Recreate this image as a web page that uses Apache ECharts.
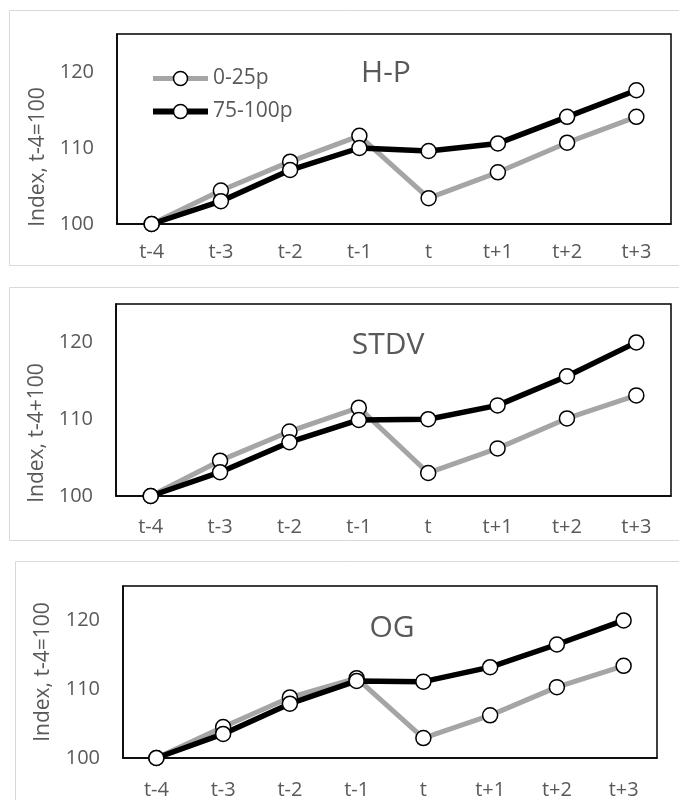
<!DOCTYPE html>
<html>
<head>
<meta charset="utf-8">
<script src="https://cdn.jsdelivr.net/npm/echarts/dist/echarts.min.js"></script>
<style>
  html, body { margin: 0; padding: 0; background: #fff; }
  #main { width: 679px; height: 800px; }
</style>
</head>
<body>
<div id="main"></div>
<script>
// data
var categories = ["t-4", "t-3", "t-2", "t-1", "t", "t+1", "t+2", "t+3"];
var seriesNames = ["0-25p", "75-100p"];
var panelTitles = ["H-P", "STDV", "OG"];
var yAxisNames = ["Index, t-4=100", "Index, t-4+100", "Index, t-4=100"];
var yMin = 100;
var yMax = 125;
var yStep = 10;

var hpLow = [100, 104.4, 108.2, 111.6, 103.4, 106.8, 110.7, 114.1];
var hpHigh = [100, 103.0, 107.1, 110.0, 109.6, 110.6, 114.1, 117.6];
var stdvLow = [100, 104.6, 108.4, 111.5, 103.0, 106.2, 110.1, 113.1];
var stdvHigh = [100, 103.1, 107.0, 109.9, 110.0, 111.8, 115.6, 120.0];
var ogLow = [100, 104.5, 108.8, 111.6, 102.9, 106.2, 110.3, 113.4];
var ogHigh = [100, 103.5, 107.9, 111.2, 111.1, 113.2, 116.5, 120.0];

var lowData = [hpLow, stdvLow, ogLow];
var highData = [hpHigh, stdvHigh, ogHigh];

var FONT = "Open Sans";
var TXT = "#595959";
var GRAY = "#a5a5a5";

// plot area of each panel (pixels)
var grids = [
	{ left: 117, top: 34, width: 554, height: 190 },
	{ left: 116, top: 304, width: 555, height: 192 },
	{ left: 123, top: 586, width: 534, height: 175 },
];
var nameGaps = [64, 60, 69];
var namePad = [[0, 56, 0, 0], [0, 66, 0, 0], [0, 0, 0, 0]];
var titlePos = [
	{ left: 381, top: 53 },
	{ left: 383, top: 325 },
	{ left: 387, top: 608 },
];
var labelMargin = [18, 21, 22];

var myChart = echarts.init(document.getElementById("main"));

var option = {
	animation: false,
	textStyle: { fontFamily: FONT },
	title: [],
	grid: [],
	xAxis: [],
	yAxis: [],
	series: [],
	legend: {
		orient: "vertical",
		left: 145,
		top: 63,
		itemWidth: 55,
		itemHeight: 17.5,
		itemGap: 12,
		textStyle: { fontFamily: FONT, fontSize: 21, color: TXT },
		data: [
			{
				name: seriesNames[0],
				lineStyle: { color: GRAY, width: 5 },
				itemStyle: { color: "#fff", borderColor: "#000", borderWidth: 1.5 },
			},
			{
				name: seriesNames[1],
				lineStyle: { color: "#000", width: 6 },
				itemStyle: { color: "#fff", borderColor: "#000", borderWidth: 1.5 },
			},
		],
	},
	// light frames round each of the three chart pictures
	graphic: [
		{ type: "rect", shape: { x: 9.5, y: 10.5, width: 700, height: 255 }, style: { fill: "none", stroke: "#d9d9d9", lineWidth: 1 } },
		{ type: "rect", shape: { x: 9.5, y: 287.5, width: 700, height: 253 }, style: { fill: "none", stroke: "#d9d9d9", lineWidth: 1 } },
		{ type: "rect", shape: { x: 15.5, y: 561.5, width: 700, height: 300 }, style: { fill: "none", stroke: "#d9d9d9", lineWidth: 1 } },
	],
};

for (var i = 0; i < 3; i++) {
	option.title.push({
		text: panelTitles[i],
		left: titlePos[i].left,
		top: titlePos[i].top,
		textAlign: "center",
		textStyle: { fontFamily: FONT, fontSize: 30, fontWeight: "normal", color: TXT },
	});
	option.grid.push({
		left: grids[i].left,
		top: grids[i].top,
		width: grids[i].width,
		height: grids[i].height,
		show: true,
		borderColor: "#000",
		borderWidth: 1.5,
		backgroundColor: "transparent",
	});
	option.xAxis.push({
		type: "category",
		gridIndex: i,
		data: categories,
		boundaryGap: true,
		axisLine: { lineStyle: { color: "#000", width: 1.5 } },
		axisTick: { alignWithLabel: true, inside: true, length: 5, lineStyle: { color: "#000", width: 1.5 } },
		axisLabel: { color: TXT, fontSize: 20, fontFamily: FONT, margin: labelMargin[i] },
	});
	option.yAxis.push({
		type: "value",
		gridIndex: i,
		min: yMin,
		max: yMax,
		interval: yStep,
		name: yAxisNames[i],
		nameLocation: "middle",
		nameGap: nameGaps[i],
		nameTextStyle: { color: TXT, fontSize: 21, fontFamily: FONT, padding: namePad[i] },
		axisLine: { show: true, lineStyle: { color: "#000", width: 1.5 } },
		axisTick: { show: false },
		splitLine: { show: false },
		axisLabel: { color: TXT, fontSize: 20, fontFamily: FONT, margin: 23, showMaxLabel: false },
	});
	option.series.push({
		name: seriesNames[0],
		type: "line",
		xAxisIndex: i,
		yAxisIndex: i,
		data: lowData[i],
		symbol: "circle",
		symbolSize: 15,
		lineStyle: { color: GRAY, width: 5 },
		itemStyle: { color: "#fff", borderColor: "#000", borderWidth: 1.5 },
	});
	option.series.push({
		name: seriesNames[1],
		type: "line",
		xAxisIndex: i,
		yAxisIndex: i,
		data: highData[i],
		symbol: "circle",
		symbolSize: 15,
		lineStyle: { color: "#000", width: 5.5 },
		itemStyle: { color: "#fff", borderColor: "#000", borderWidth: 1.5 },
	});
}

myChart.setOption(option);
</script>
</body>
</html>
